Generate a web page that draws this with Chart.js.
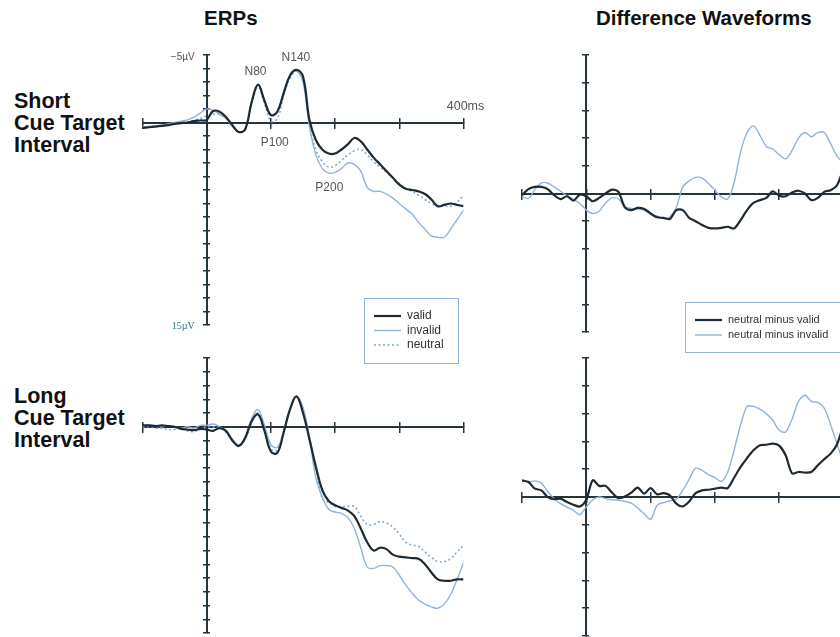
<!DOCTYPE html>
<html>
<head>
<meta charset="utf-8">
<script src="https://cdn.jsdelivr.net/npm/chart.js@4"></script>
<style>
  html, body { margin: 0; padding: 0; background: #fff; }
  #wrap { position: relative; width: 840px; height: 637px; overflow: hidden; background: #fff;
          font-family: "Liberation Sans", Arial, sans-serif; color: #111; }
  #wrap canvas { position: absolute; left: 0; top: 0; }
  .title { position: absolute; font-weight: bold; font-size: 20.5px; line-height: 20px; white-space: nowrap; }
  .row { position: absolute; left: 14px; font-weight: bold; font-size: 21.5px; line-height: 22px; white-space: nowrap; }
</style>
</head>
<body>
<div id="wrap">
  <div class="title" style="left:204px; top:8px">ERPs</div>
  <div class="title" style="left:596px; top:8px">Difference Waveforms</div>
  <div class="row" style="top:90px">Short<br>Cue Target<br>Interval</div>
  <div class="row" style="top:385px">Long<br>Cue Target<br>Interval</div>
  <canvas id="erpShort" width="900" height="637"></canvas>
  <canvas id="erpLong" width="900" height="637"></canvas>
  <canvas id="diffShort" width="900" height="637"></canvas>
  <canvas id="diffLong" width="900" height="637"></canvas>
</div>
<script>
// time axis (ms) and waveforms (µV, negative plotted upward)
const timeMs = [-100, -90, -80, -70, -60, -50, -40, -30, -20, -10,
    0, 10, 20, 30, 40, 50, 60, 70, 80, 90,
    100, 110, 120, 130, 140, 150, 160, 170, 180, 190,
    200, 210, 220, 230, 240, 250, 260, 270, 280, 290,
    300, 310, 320, 330, 340, 350, 360, 370, 380, 390,
    400];

const shortValid = [0.4, 0.35, 0.3, 0.25, 0.2, 0.1, 0.05, 0.0, -0.1, -0.15,
    -0.2, -0.85, -0.8, -0.4, 0.2, 0.7, 0.5, -1.5, -2.8, -1.6,
    -0.55, -0.8, -2.2, -3.5, -3.9, -3.4, -0.2, 1.3, 2.0, 2.3,
    2.3, 2.0, 1.6, 1.15, 1.4, 2.0, 2.6, 3.1, 3.6, 4.1,
    4.6, 4.9, 5.0, 5.1, 5.3, 5.7, 6.2, 6.1, 6.0, 6.1,
    6.2];
const shortInvalid = [0.3, 0.3, 0.25, 0.2, 0.1, 0.0, -0.1, -0.2, -0.4, -0.7,
    -1.0, -0.9, -0.6, -0.3, 0.3, 0.7, 0.5, -1.6, -2.8, -1.7,
    -0.6, -0.8, -2.3, -3.5, -3.8, -3.0, 0.3, 2.4, 3.4, 3.75,
    3.7, 3.4, 3.0, 3.1, 3.6, 4.8, 5.1, 5.1, 5.3, 5.6,
    6.0, 6.4, 6.8, 7.4, 7.9, 8.4, 8.5, 8.5, 7.9, 7.2,
    6.5];
const shortNeutral = [0.35, 0.3, 0.3, 0.25, 0.15, 0.1, 0.0, -0.05, -0.15, -0.3,
    -0.5, -0.6, -0.6, -0.3, 0.25, 0.7, 0.5, -1.4, -2.6, -1.4,
    -0.1, -0.3, -2.0, -3.3, -3.8, -3.1, 0.1, 2.0, 2.9, 3.3,
    3.2, 2.8, 2.4, 2.1, 2.0, 2.4, 2.9, 3.3, 3.7, 4.1,
    4.5, 4.9, 5.1, 5.4, 5.7, 6.0, 6.2, 6.2, 6.2, 5.9,
    5.4];

const longValid = [-0.1, -0.1, -0.05, -0.1, -0.05, 0.0, 0.15, 0.2, 0.25, 0.15,
    0.2, 0.3, 0.1, 0.3, 1.0, 1.4, 0.8, -0.4, -0.9, 0.3,
    1.8, 1.9, 0.4, -1.3, -2.2, -1.0, 0.9, 2.9, 4.6, 5.4,
    5.7, 5.9, 6.1, 6.5, 7.4, 8.4, 9.0, 8.8, 8.9, 9.3,
    9.45, 9.5, 9.55, 9.6, 10.0, 10.6, 11.1, 11.2, 11.2, 11.1,
    11.1];
const longInvalid = [0.0, -0.15, -0.1, 0.0, -0.1, 0.0, 0.1, 0.0, 0.1, -0.1,
    -0.1, -0.2, 0.0, 0.3, 0.9, 1.3, 0.8, -0.6, -1.25, -0.1,
    1.3, 1.5, 0.3, -1.3, -2.2, -1.4, 0.8, 3.7, 5.1, 6.0,
    6.2, 6.3, 6.6, 7.4, 8.8, 10.2, 10.3, 10.1, 10.1, 10.2,
    10.8, 11.5, 12.1, 12.6, 12.9, 13.1, 13.2, 12.9, 12.2, 11.1,
    9.9];
const longNeutral = [0.0, 0.0, 0.1, 0.1, 0.2, 0.2, 0.1, 0.3, 0.35, 0.2,
    0.0, 0.0, 0.1, 0.4, 1.0, 1.4, 0.9, -0.3, -1.0, 0.0,
    1.6, 1.7, 0.3, -1.3, -2.2, -1.3, 0.8, 3.0, 5.2, 5.5,
    5.8, 5.8, 5.8, 5.8, 6.5, 7.1, 7.1, 6.9, 7.0, 7.3,
    7.8, 8.4, 8.6, 8.7, 9.1, 9.5, 9.8, 9.8, 9.6, 9.1,
    8.6];

// difference waves (µV)
const diffShortValid = [0.06, -0.16, -0.24, -0.24, -0.16, 0.06, 0.2, 0.1, 0.26, 0.04,
    0.1, 0.28, 0.16, 0.0, -0.14, -0.06, 0.5, 0.6, 0.52, 0.56,
    0.72, 0.86, 0.88, 0.92, 0.6, 0.6, 0.88, 1.0, 1.14, 1.24,
    1.26, 1.24, 1.2, 1.26, 0.96, 0.6, 0.34, 0.24, 0.16, -0.08,
    0.08, 0.1, -0.04, -0.1, 0.0, 0.24, 0.16, -0.06, -0.12, -0.3,
    -0.9];
const diffShortInvalid = [0.12, 0.18, -0.14, -0.38, -0.38, -0.24, -0.08, 0.08, 0.2, 0.36,
    0.6, 0.72, 0.64, 0.34, 0.16, 0.2, 0.48, 0.54, 0.56, 0.6,
    0.76, 0.82, 0.9, 0.84, 0.5, -0.24, -0.46, -0.58, -0.56, -0.36,
    -0.12, 0.12, 0.2, -0.4, -1.5, -2.2, -2.45, -2.1, -1.7, -1.6,
    -1.4, -1.25, -1.55, -2.0, -2.2, -2.05, -2.2, -2.2, -1.8, -1.35,
    -1.1];
const diffLongValid = [-0.6, -0.54, -0.3, -0.24, 0.0, 0.08, 0.06, 0.18, 0.28, 0.34,
    0.1, -0.6, -0.4, -0.4, -0.16, 0.04, -0.02, -0.16, -0.34, -0.12,
    -0.32, -0.1, -0.14, -0.06, 0.24, 0.34, 0.16, -0.14, -0.24, -0.26,
    -0.3, -0.34, -0.32, -0.7, -1.08, -1.4, -1.68, -1.86, -1.88, -1.92,
    -1.85, -1.5, -0.85, -0.9, -0.88, -0.9, -1.14, -1.36, -1.56, -1.9,
    -2.6];
const diffLongInvalid = [-0.6, -0.54, -0.58, -0.5, -0.2, 0.06, 0.24, 0.36, 0.48, 0.64,
    0.36, 0.1, 0.0, 0.06, 0.1, 0.12, 0.16, 0.22, 0.4, 0.6,
    0.8, 0.3, 0.2, 0.14, 0.08, -0.24, -0.64, -1.04, -0.96, -0.8,
    -0.7, -0.56, -0.9, -1.7, -2.6, -3.26, -3.26, -3.16, -3.0, -2.76,
    -2.4, -2.34, -2.8, -3.44, -3.66, -3.44, -3.4, -3.2, -2.6, -1.9,
    -1.2];

// component labels on the short ERP panel
const peakNames = ['N80', 'N140', 'P100', 'P200'];
const peakMs = [76, 139, 106, 191];
const peakUv = [-3.8, -4.8, 1.5, 4.85];

const AXIS = '#26343b';
const DARK = '#1e2a30';
const BLUE = '#8fb3dd';
const DOTS = '#7ea8d8';

const toXY = vals => vals.map((v, i) => ({ x: timeMs[i], y: v }));

function erpSets(valid, invalid, neutral) {
    return [
        { label: 'valid', data: toXY(valid), borderColor: DARK, borderWidth: 2.2, tension: 0.4 },
        { label: 'invalid', data: toXY(invalid), borderColor: BLUE, borderWidth: 1.4, tension: 0.4 },
        { label: 'neutral', data: toXY(neutral), borderColor: DOTS, borderWidth: 1.6, borderDash: [2, 2.5], tension: 0.4 }
    ];
}

function diffSets(minusValid, minusInvalid) {
    return [
        { label: 'neutral minus valid', data: toXY(minusValid), borderColor: DARK, borderWidth: 2.2, tension: 0.3 },
        { label: 'neutral minus invalid', data: toXY(minusInvalid), borderColor: BLUE, borderWidth: 1.4, tension: 0.3 }
    ];
}

// axes crossing at zero, tick marks on both sides
function axisScales(yMin, yMax, yStep) {
    const marks = len => ({ drawOnChartArea: false, drawTicks: true, tickLength: len, color: AXIS, lineWidth: 1.5 });
    const xBase = { type: 'linear', axis: 'x', min: -100, max: 400, position: { y: 0 }, ticks: { display: false, stepSize: 100 } };
    const yBase = { type: 'linear', axis: 'y', min: yMin, max: yMax, reverse: true, position: { x: 0 }, ticks: { display: false, stepSize: yStep } };
    return {
        x: { ...xBase, grid: marks(5), border: { color: AXIS, width: 2 } },
        xUp: { ...xBase, grid: marks(-5), border: { display: false } },
        y: { ...yBase, grid: marks(3), border: { color: AXIS, width: 2 } },
        yRight: { ...yBase, grid: marks(-3), border: { display: false } }
    };
}

// text labels at data positions + boxed legend built from the datasets
const panelText = {
    id: 'panelText',
    afterDraw(chart, args, opts) {
        const ctx = chart.ctx;
        const xs = chart.scales.x, ys = chart.scales.y;
        ctx.save();
        ctx.textBaseline = 'middle';
        (opts.labels || []).forEach(l => {
            ctx.font = l.font;
            ctx.fillStyle = l.color;
            ctx.textAlign = l.align || 'center';
            ctx.fillText(l.text, xs.getPixelForValue(l.ms) + (l.dx || 0), ys.getPixelForValue(l.uv) + (l.dy || 0));
        });
        const lg = opts.legend;
        if (lg) {
            ctx.strokeStyle = '#8fb3d8';
            ctx.lineWidth = 1;
            ctx.strokeRect(lg.left + 0.5, lg.top + 0.5, lg.width, lg.height);
            chart.data.datasets.forEach((ds, i) => {
                const y = lg.top + lg.first + i * lg.gap;
                ctx.beginPath();
                ctx.strokeStyle = ds.borderColor;
                ctx.lineWidth = ds.borderWidth;
                ctx.setLineDash(ds.borderDash || []);
                ctx.moveTo(lg.left + 10, y);
                ctx.lineTo(lg.left + 37, y);
                ctx.stroke();
                ctx.setLineDash([]);
                ctx.font = lg.font;
                ctx.fillStyle = '#333';
                ctx.textAlign = 'left';
                ctx.fillText(ds.label, lg.left + 43, y);
            });
        }
        ctx.restore();
    }
};

function makePanel(id, datasets, yMin, yMax, yStep, padding, textOpts) {
    return new Chart(document.getElementById(id), {
        type: 'line',
        data: { datasets },
        options: {
            responsive: false,
            animation: false,
            layout: { padding },
            elements: { point: { radius: 0 } },
            plugins: { legend: { display: false }, tooltip: { enabled: false }, panelText: textOpts },
            scales: axisScales(yMin, yMax, yStep)
        },
        plugins: [panelText]
    });
}

const peakFont = '12px "Liberation Sans", Arial, sans-serif';
const shortLabels = peakNames.map((n, i) => ({ text: n, ms: peakMs[i], uv: peakUv[i], font: peakFont, color: '#555' }));
shortLabels.push({ text: '400ms', ms: 400, uv: -1.15, dx: 2, font: '12.5px "Liberation Sans", Arial, sans-serif', color: '#555' });
shortLabels.push({ text: '−5µV', ms: 0, uv: -5, dx: -12, dy: 2, align: 'right', font: '10px "Liberation Sans", Arial, sans-serif', color: '#555' });
shortLabels.push({ text: '15µV', ms: 0, uv: 15, dx: -12, dy: 1, align: 'right', font: '10px "Liberation Serif", serif', color: '#2f6f7e' });

makePanel('erpShort', erpSets(shortValid, shortInvalid, shortNeutral), -5, 15, 1,
    { left: 142.5, right: 436.5, top: 55, bottom: 312 },
    { labels: shortLabels, legend: { left: 364, top: 298, width: 94, height: 65, first: 18, gap: 14.5, font: '12px "Liberation Sans", Arial, sans-serif' } });

makePanel('erpLong', erpSets(longValid, longInvalid, longNeutral), -5, 15, 1,
    { left: 142.5, right: 436.5, top: 358, bottom: 4 }, {});

makePanel('diffShort', diffSets(diffShortValid, diffShortInvalid), -5, 5, 1,
    { left: 522, right: 56.5, top: 55, bottom: 305 },
    { legend: { left: 685, top: 302, width: 200, height: 50, first: 18, gap: 15, font: '11px "Liberation Sans", Arial, sans-serif' } });

makePanel('diffLong', diffSets(diffLongValid, diffLongInvalid), -5, 5, 1,
    { left: 522, right: 56.5, top: 358, bottom: 1 }, {});
</script>
</body>
</html>
